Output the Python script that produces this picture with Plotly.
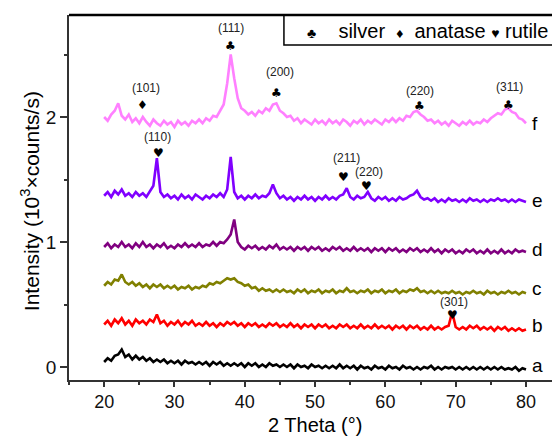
import plotly.graph_objects as go

# ---------------- data ----------------
two_theta = [round(20 + 0.5 * i, 1) for i in range(121)]

f_vals = [2.00, 1.97, 2.02, 2.05, 2.11, 2.01, 1.98, 2.02, 1.96, 1.99,
          1.95, 2.00, 1.96, 1.93, 1.98, 1.95, 1.93, 1.97, 1.94, 1.96,
          1.92, 1.97, 1.94, 1.96, 1.93, 1.97, 1.95, 1.98, 1.95, 1.99,
          1.97, 2.01, 2.00, 2.05, 2.10, 2.27, 2.50, 2.31, 2.15, 2.07,
          2.05, 2.02, 2.04, 2.01, 2.05, 2.03, 2.07, 2.05, 2.10, 2.11,
          2.05, 2.03, 2.00, 2.01, 1.97, 1.99, 1.95, 1.98, 1.96, 1.94,
          1.98, 1.95, 1.97, 1.94, 1.98, 1.95, 1.97, 1.94, 1.98, 1.96,
          1.93, 1.97, 1.95, 1.98, 1.94, 1.97, 1.95, 1.98, 1.96, 1.94,
          1.98, 1.96, 1.99, 1.96, 1.99, 1.97, 2.01, 2.00, 2.04, 2.05,
          2.02, 2.00, 1.97, 1.98, 1.95, 1.97, 1.94, 1.96, 1.93, 1.97,
          1.95, 1.93, 1.96, 1.94, 1.97, 1.94, 1.96, 1.95, 1.98, 1.96,
          1.99, 2.01, 2.03, 2.02, 2.06, 2.07, 2.04, 2.03, 1.99, 1.98,
          1.95]

e_vals = [1.37, 1.40, 1.36, 1.41, 1.38, 1.42, 1.37, 1.39, 1.36, 1.40,
          1.37, 1.39, 1.36, 1.40, 1.45, 1.67, 1.40, 1.36, 1.38, 1.35,
          1.37, 1.34, 1.38, 1.35, 1.37, 1.34, 1.38, 1.36, 1.34, 1.37,
          1.35, 1.38, 1.36, 1.39, 1.36, 1.42, 1.68, 1.40, 1.35, 1.37,
          1.34, 1.37, 1.35, 1.38, 1.35, 1.37, 1.36, 1.39, 1.46, 1.39,
          1.35, 1.37, 1.34, 1.36, 1.33, 1.36, 1.34, 1.37, 1.34, 1.36,
          1.33, 1.36, 1.34, 1.37, 1.34, 1.36, 1.34, 1.37, 1.38, 1.43,
          1.36, 1.34, 1.37, 1.35, 1.36, 1.40, 1.35, 1.33, 1.36, 1.34,
          1.36, 1.33, 1.35, 1.33, 1.36, 1.34, 1.35, 1.37, 1.38, 1.41,
          1.36, 1.34, 1.35, 1.33, 1.35, 1.32, 1.34, 1.32, 1.35, 1.33,
          1.34, 1.32, 1.34, 1.32, 1.35, 1.33, 1.34, 1.32, 1.34, 1.32,
          1.34, 1.33, 1.35, 1.33, 1.34, 1.32, 1.34, 1.32, 1.34, 1.33,
          1.32]

d_vals = [0.96, 0.99, 0.95, 0.98, 0.96, 1.00, 0.96, 0.98, 0.95, 0.99,
          0.96, 1.00, 0.96, 0.98, 0.95, 0.98, 0.96, 0.99, 0.95, 0.97,
          0.95, 0.98, 0.96, 0.99, 0.96, 0.98, 0.96, 0.99, 0.96, 0.98,
          0.97, 1.00, 0.97, 1.00, 0.99, 1.02, 1.06, 1.18, 1.00, 0.96,
          0.94, 0.97, 0.95, 0.97, 0.94, 0.96, 0.94, 0.97, 0.95, 0.98,
          0.94, 0.96, 0.94, 0.96, 0.93, 0.96, 0.94, 0.96, 0.93, 0.96,
          0.94, 0.96, 0.93, 0.95, 0.93, 0.96, 0.94, 0.96, 0.93, 0.95,
          0.93, 0.96, 0.93, 0.95, 0.93, 0.95, 0.92, 0.95, 0.93, 0.95,
          0.92, 0.95, 0.93, 0.95, 0.92, 0.94, 0.92, 0.95, 0.93, 0.95,
          0.92, 0.94, 0.92, 0.95, 0.92, 0.94, 0.91, 0.94, 0.92, 0.94,
          0.91, 0.93, 0.91, 0.94, 0.92, 0.94, 0.91, 0.93, 0.91, 0.94,
          0.91, 0.93, 0.91, 0.94, 0.91, 0.93, 0.91, 0.94, 0.92, 0.93,
          0.92]

c_vals = [0.65, 0.68, 0.66, 0.70, 0.69, 0.74, 0.68, 0.66, 0.68, 0.65,
          0.67, 0.64, 0.66, 0.63, 0.66, 0.64, 0.66, 0.63, 0.65, 0.63,
          0.65, 0.62, 0.64, 0.63, 0.65, 0.62, 0.64, 0.63, 0.65, 0.64,
          0.67, 0.66, 0.68, 0.67, 0.69, 0.71, 0.70, 0.71, 0.68, 0.67,
          0.65, 0.66, 0.63, 0.64, 0.61, 0.63, 0.61, 0.62, 0.60, 0.62,
          0.60, 0.62, 0.60, 0.61, 0.59, 0.62, 0.60, 0.62, 0.59, 0.61,
          0.60, 0.62, 0.59, 0.61, 0.60, 0.62, 0.59, 0.61, 0.60, 0.63,
          0.60, 0.61, 0.59, 0.61, 0.60, 0.62, 0.59, 0.61, 0.60, 0.62,
          0.59, 0.61, 0.60, 0.62, 0.59, 0.61, 0.60, 0.62, 0.61, 0.63,
          0.60, 0.61, 0.59, 0.61, 0.59, 0.61, 0.59, 0.60, 0.59, 0.61,
          0.59, 0.60, 0.58, 0.60, 0.59, 0.61, 0.59, 0.60, 0.58, 0.61,
          0.59, 0.60, 0.58, 0.60, 0.59, 0.61, 0.59, 0.60, 0.58, 0.60,
          0.59]

b_vals = [0.34, 0.37, 0.33, 0.38, 0.35, 0.39, 0.34, 0.37, 0.33, 0.38,
          0.35, 0.37, 0.34, 0.38, 0.36, 0.42, 0.35, 0.37, 0.33, 0.36,
          0.34, 0.37, 0.33, 0.36, 0.34, 0.37, 0.33, 0.35, 0.33, 0.36,
          0.33, 0.35, 0.32, 0.35, 0.33, 0.36, 0.34, 0.36, 0.33, 0.35,
          0.32, 0.35, 0.33, 0.35, 0.32, 0.34, 0.32, 0.35, 0.33, 0.35,
          0.32, 0.34, 0.32, 0.35, 0.32, 0.34, 0.31, 0.34, 0.32, 0.34,
          0.31, 0.34, 0.32, 0.34, 0.31, 0.33, 0.31, 0.34, 0.32, 0.34,
          0.31, 0.33, 0.31, 0.34, 0.31, 0.33, 0.31, 0.34, 0.31, 0.33,
          0.31, 0.33, 0.30, 0.33, 0.31, 0.33, 0.30, 0.33, 0.31, 0.33,
          0.30, 0.32, 0.30, 0.33, 0.30, 0.32, 0.30, 0.32, 0.33, 0.44,
          0.32, 0.30, 0.32, 0.30, 0.33, 0.31, 0.33, 0.30, 0.32, 0.30,
          0.32, 0.29, 0.32, 0.30, 0.32, 0.29, 0.31, 0.29, 0.31, 0.29,
          0.30]

a_vals = [0.04, 0.07, 0.05, 0.09, 0.10, 0.14, 0.08, 0.10, 0.06, 0.09,
          0.06, 0.08, 0.05, 0.07, 0.04, 0.06, 0.04, 0.06, 0.03, 0.05,
          0.03, 0.05, 0.02, 0.05, 0.03, 0.04, 0.02, 0.04, 0.02, 0.04,
          0.01, 0.04, 0.02, 0.04, 0.01, 0.03, 0.01, 0.03, 0.01, 0.03,
          0.00, 0.03, 0.01, 0.03, 0.00, 0.02, 0.00, 0.03, 0.01, 0.02,
          0.00, 0.02, 0.00, 0.02, -0.01, 0.02, 0.00, 0.01, -0.01, 0.02,
          0.00, 0.01, -0.01, 0.01, -0.01, 0.01, -0.01, 0.02, -0.01, 0.01,
          -0.01, 0.01, -0.02, 0.01, -0.01, 0.00, -0.02, 0.01, -0.01, 0.00,
          -0.02, 0.01, -0.01, 0.00, -0.02, 0.01, -0.01, 0.00, -0.02, 0.00,
          -0.02, 0.00, -0.01, 0.01, -0.02, 0.00, -0.02, 0.00, -0.01, 0.00,
          -0.02, 0.00, -0.02, 0.00, -0.02, 0.00, -0.02, 0.00, -0.02, 0.00,
          -0.02, 0.00, -0.02, 0.00, -0.02, -0.01, -0.02, 0.00, -0.03, -0.01,
          -0.02]

series_names = ["a", "b", "c", "d", "e", "f"]
series_values = [a_vals, b_vals, c_vals, d_vals, e_vals, f_vals]
series_colors = ["#000000", "#FF0000", "#808000", "#800080", "#8000FF", "#FF80FF"]
series_label_y = [0.01, 0.33, 0.63, 0.94, 1.33, 1.95]

# peak markers: (2theta, symbol, hkl, symbol y, label x, label y)
peak_x = [25.5, 38.0, 44.5, 64.8, 77.5, 27.7, 54.1, 57.3, 69.6]
peak_symbol = ["♦", "♣", "♣", "♣", "♣", "♥", "♥", "♥", "♥"]
peak_hkl = ["(101)", "(111)", "(200)", "(220)", "(311)", "(110)", "(211)", "(220)", "(301)"]
peak_sym_y = [2.10, 2.57, 2.19, 2.09, 2.10, 1.71, 1.52, 1.45, 0.42]
peak_lab_x = [26.0, 38.0, 45.0, 64.9, 77.7, 27.6, 54.5, 57.6, 69.7]
peak_lab_y = [2.23, 2.71, 2.36, 2.21, 2.24, 1.84, 1.67, 1.56, 0.52]

x_ticks = [20, 30, 40, 50, 60, 70, 80]
y_ticks = [0, 1, 2]

FONT = "Liberation Sans, Arial, sans-serif"

fig = go.Figure()
for name, vals, col in zip(series_names, series_values, series_colors):
    fig.add_trace(go.Scatter(x=two_theta, y=vals, mode="lines", name=name,
                             line=dict(color=col, width=2.6), showlegend=False,
                             hoverinfo="skip"))

ann = []
for name, col, ly in zip(series_names, series_colors, series_label_y):
    ann.append(dict(x=80.6, y=ly, xref="x", yref="y", text=name, showarrow=False,
                    xanchor="left", yanchor="middle",
                    font=dict(family=FONT, size=19, color="#000")))

for px, sym, hkl, sy, lx, ly in zip(peak_x, peak_symbol, peak_hkl, peak_sym_y, peak_lab_x, peak_lab_y):
    ann.append(dict(x=px, y=sy, xref="x", yref="y", text=sym, showarrow=False,
                    xanchor="center", yanchor="middle",
                    font=dict(family="DejaVu Sans", size=12, color="#000")))
    ann.append(dict(x=lx, y=ly, xref="x", yref="y", text=hkl, showarrow=False,
                    xanchor="center", yanchor="middle",
                    font=dict(family=FONT, size=12, color="#222")))

# axis titles
ann.append(dict(x=50, y=0, xref="x", yref="paper", yshift=-45, text="2 Theta (°)",
                showarrow=False, xanchor="center", yanchor="middle",
                font=dict(family=FONT, size=20, color="#000")))
ann.append(dict(x=0, y=0.49, xref="paper", yref="paper", xshift=-39,
                text="Intensity (10<sup>3</sup>×counts/s)", textangle=-90,
                showarrow=False, xanchor="center", yanchor="middle",
                font=dict(family=FONT, size=21, color="#000")))

# legend text
ann.append(dict(x=1.0, xref="paper", y=1, yref="paper", yshift=-16, xshift=-2,
                text="<span style='font-size:14px'>♣</span>    silver  <span style='font-size:14px'>♦</span>  anatase <span style='font-size:14px'>♥</span> rutile",
                showarrow=False, xanchor="right", yanchor="middle",
                font=dict(family=FONT, size=20, color="#000")))

shapes = [
    dict(type="rect", xref="paper", yref="paper", x0=0.445, x1=1.05, y0=0.918, y1=1.0,
         line=dict(color="#000", width=1.5), fillcolor="rgba(0,0,0,0)"),
    dict(type="line", xref="paper", yref="paper", x0=0, x1=1.05, y0=1.0, y1=1.0,
         line=dict(color="#000", width=2.5)),
]

fig.update_layout(
    width=552, height=437,
    margin=dict(l=69, r=0, t=15, b=57),
    paper_bgcolor="white", plot_bgcolor="white",
    annotations=ann, shapes=shapes,
    font=dict(family=FONT, color="#000"),
)
fig.update_xaxes(range=[15, 83.7], showgrid=False, zeroline=False, showline=True,
                 linecolor="#333", linewidth=1.5, ticks="outside", ticklen=5,
                 tickwidth=1.5, tickcolor="#333", tickvals=x_ticks,
                 tickfont=dict(family=FONT, size=18, color="#111"),
                 minor=dict(tickvals=[15, 25, 35, 45, 55, 65, 75], ticks="outside",
                            ticklen=3, tickwidth=1.5, tickcolor="#333"))
fig.update_yaxes(range=[-0.104, 2.816], showgrid=False, zeroline=False, showline=True,
                 linecolor="#333", linewidth=1.5, ticks="outside", ticklen=7,
                 tickwidth=1.5, tickcolor="#333", tickvals=y_ticks,
                 tickfont=dict(family=FONT, size=19, color="#111"),
                 minor=dict(tickvals=[0.5, 1.5, 2.5], ticks="outside",
                            ticklen=3, tickwidth=1.5, tickcolor="#333"))

fig.write_html("out.html")
